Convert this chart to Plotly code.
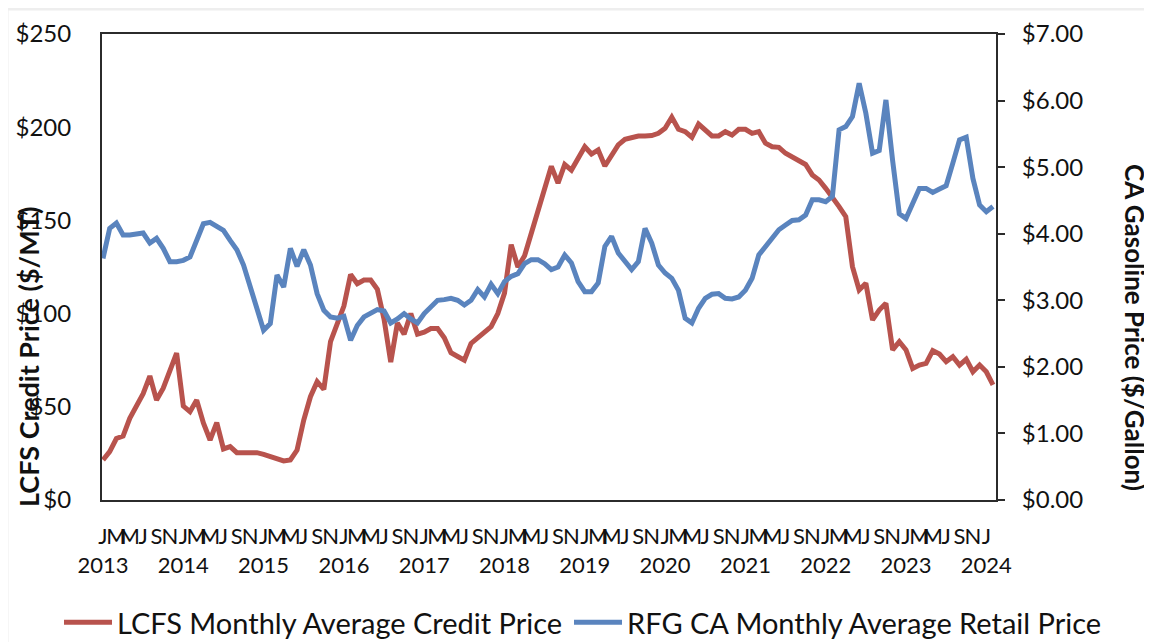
import plotly.graph_objects as go

# Monthly categories: Jan 2013 .. Feb 2024 (134 months)
start_year = 2013
n_months = 134
month_letters = ["J", "F", "M", "A", "M", "J", "J", "A", "S", "O", "N", "D"]

lcfs_credit_price = [
    21.5, 26, 33, 34.3, 43.8, 50, 57, 66.5, 53.6, 60, 69.6, 78.8,
    50.4, 47.4, 53.6, 41.3, 32.2, 41.5, 27.4, 28.6, 25.4, 25.4, 25.4, 25.4,
    24.5, 23.2, 22, 21, 21.5, 26.8, 42.9, 55.4, 63.5, 59.4, 85, 95,
    104, 121, 116, 118, 118, 113, 97, 74, 95, 89, 100, 89,
    90, 92, 92, 87, 79, 77, 75, 84, 87, 90, 93, 100,
    111, 137, 125, 131, 143, 155, 169, 179, 170, 180, 177, 183,
    189.5, 185.6, 187.8, 179.2, 185.1, 190.5, 193.5, 194.5, 195.3, 195.3, 195.5, 196.7,
    199.4, 205.3, 198.9, 197.6, 194.6, 201.7, 198.1, 195.3, 195.3, 197.6, 195.8, 198.9,
    198.9, 196.7, 197.6, 191.4, 189.5, 189.2, 186, 184, 182.5, 180, 174.4, 171.7,
    167.2, 162.7, 157.4, 152, 125.2, 112.7, 116.3, 96.6, 101.9, 105.5, 80.5, 84.9,
    80.5, 70.6, 72.4, 73.3, 80.1, 78.3, 74.2, 76.9, 72.4, 75.5, 68.8, 72.4,
    68.8, 61.7,
]

rfg_retail_price = [
    3.63, 4.08, 4.16, 3.98, 3.98, 3.99, 4.01, 3.86, 3.93, 3.78, 3.58, 3.58,
    3.60, 3.65, 3.91, 4.15, 4.17, 4.10, 4.05, 3.90, 3.76, 3.53, 3.20, 2.90,
    2.55, 2.65, 3.38, 3.20, 3.78, 3.51, 3.76, 3.53, 3.10, 2.85, 2.75, 2.73,
    2.76, 2.40, 2.62, 2.75, 2.80, 2.86, 2.84, 2.66, 2.72, 2.80, 2.72, 2.66,
    2.80, 2.90, 3.00, 3.01, 3.03, 3.00, 2.93, 3.00, 3.16, 3.05, 3.24, 3.10,
    3.28, 3.36, 3.40, 3.55, 3.61, 3.61, 3.55, 3.46, 3.50, 3.68, 3.56, 3.28,
    3.13, 3.13, 3.26, 3.81, 3.96, 3.71, 3.58, 3.46, 3.58, 4.08, 3.86, 3.53,
    3.41, 3.33, 3.15, 2.73, 2.66, 2.88, 3.03, 3.09, 3.10, 3.03, 3.02, 3.05,
    3.15, 3.33, 3.68, 3.81, 3.96, 4.06, 4.13, 4.20, 4.21, 4.28, 4.51, 4.51,
    4.48, 4.56, 5.56, 5.61, 5.76, 6.26, 5.81, 5.21, 5.25, 6.01, 5.10, 4.30,
    4.23, 4.48, 4.68, 4.68, 4.62, 4.67, 4.72, 5.06, 5.41, 5.45, 4.83, 4.43,
    4.33, 4.41,
]

left_ticks = [0, 50, 100, 150, 200, 250]
left_tick_text = ["$0", "$50", "$100", "$150", "$200", "$250"]
right_ticks = [0, 1, 2, 3, 4, 5, 6, 7]
right_tick_text = ["$0.00", "$1.00", "$2.00", "$3.00", "$4.00", "$5.00", "$6.00", "$7.00"]

month_index = list(range(n_months))
tick_vals = list(range(0, n_months, 2))
tick_text = []
for i in tick_vals:
    letter = month_letters[i % 12]
    if i % 12 == 0:
        tick_text.append(f"{letter}<br>{start_year + i // 12}")
    else:
        tick_text.append(letter)

RED = "#B8534D"
BLUE = "#5A84BE"
AX = "#2b2b2b"
FONT = "Lato"
TXT = "#111111"

fig = go.Figure()
fig.add_trace(go.Scatter(
    x=month_index, y=lcfs_credit_price, mode="lines",
    name="LCFS Monthly Average Credit Price",
    line=dict(color=RED, width=5), yaxis="y", legend="legend"))
fig.add_trace(go.Scatter(
    x=month_index, y=rfg_retail_price, mode="lines",
    name="RFG CA Monthly Average Retail Price",
    line=dict(color=BLUE, width=5), yaxis="y2", legend="legend2"))

# page body has an 8px margin, so the figure is sized 8px smaller on each axis
FIG_W, FIG_H = 1144, 634
PLOT_W, PLOT_H = 894, 466

leg_common = dict(orientation="h", yanchor="top", y=(500 - 597) / PLOT_H, xanchor="left",
                  font=dict(size=29, family=FONT, color=TXT), itemwidth=48,
                  bgcolor="rgba(0,0,0,0)", borderwidth=0)

fig.update_layout(
    width=FIG_W, height=FIG_H,
    margin=dict(l=94, r=156, t=26, b=142, autoexpand=False),
    paper_bgcolor="white", plot_bgcolor="white",
    font=dict(family=FONT, color=TXT),
    showlegend=True,
    legend=dict(x=(59 - 102) / PLOT_W, **leg_common),
    legend2=dict(x=(569 - 102) / PLOT_W, **leg_common),
    xaxis=dict(range=[-0.15, 133.45], tickmode="array", tickvals=tick_vals, ticktext=tick_text,
               tickangle=0, showgrid=False, zeroline=False, showline=True, mirror=True,
               linecolor=AX, linewidth=2, ticks="", tickfont=dict(size=22, family=FONT, color=TXT),
               ticklabelstandoff=16),
    yaxis=dict(range=[0, 250], tickmode="array", tickvals=left_ticks, ticktext=left_tick_text,
               showgrid=False, zeroline=False, showline=True, linecolor=AX, linewidth=2, ticks="",
               tickfont=dict(size=24, family=FONT, color=TXT), ticklabelstandoff=24),
    yaxis2=dict(range=[0, 7], tickmode="array", tickvals=right_ticks, ticktext=right_tick_text,
                overlaying="y", side="right", showgrid=False, zeroline=False,
                showline=True, linecolor=AX, linewidth=2, ticks="outside", ticklen=7,
                tickwidth=2, tickcolor=AX, tickfont=dict(size=24, family=FONT, color=TXT),
                ticklabelstandoff=12),
    annotations=[
        dict(text="<b>LCFS Credit Price ($/MT)</b>", xref="paper", yref="paper",
             x=(28 - 102) / PLOT_W, y=(500 - 357) / PLOT_H, xanchor="center", yanchor="middle",
             textangle=-90, showarrow=False, font=dict(size=27, family=FONT, color=TXT)),
        dict(text="<b>CA Gasoline Price ($/Gallon)</b>", xref="paper", yref="paper",
             x=(1135 - 102) / PLOT_W, y=(500 - 327) / PLOT_H, xanchor="center", yanchor="middle",
             textangle=90, showarrow=False, font=dict(size=26, family=FONT, color=TXT)),
    ],
    shapes=[
        dict(type="line", xref="paper", yref="paper", x0=(7 - 102) / PLOT_W, x1=1.2,
             y0=(500 - 9) / PLOT_H, y1=(500 - 9) / PLOT_H, line=dict(color="#eeeeee", width=3)),
        dict(type="line", xref="paper", yref="paper", x0=(7 - 102) / PLOT_W, x1=(7 - 102) / PLOT_W,
             y0=(500 - 9) / PLOT_H, y1=-0.4, line=dict(color="#eeeeee", width=3)),
    ],
)

fig.write_html("out.html")
